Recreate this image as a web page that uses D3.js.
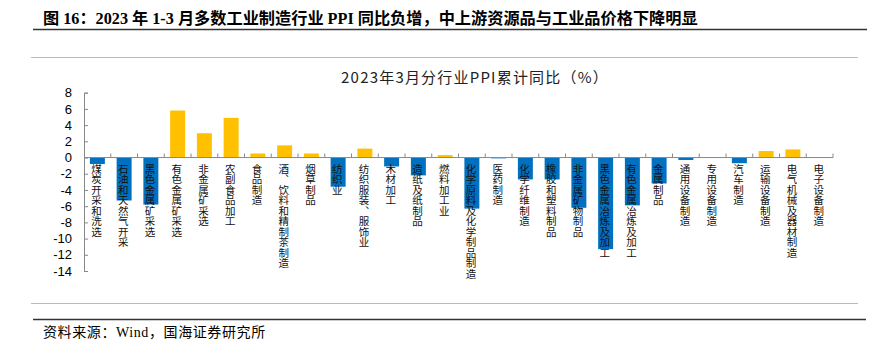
<!DOCTYPE html>
<html>
<head>
<meta charset="utf-8">
<script src="https://cdn.jsdelivr.net/npm/d3@7"></script>
<style>
  body { margin: 0; background: #fff; }
  svg { display: block; }
</style>
</head>
<body>
<div id="chart"></div>
<script>
// industry categories (left to right)
var categories = [
  "煤炭开采和洗选", "石油和天然气开采", "黑色金属矿采选", "有色金属矿采选", "非金属矿采选",
  "农副食品加工", "食品制造", "酒、饮料和精制茶制造", "烟草制品", "纺织业",
  "纺织服装、服饰业", "木材加工", "造纸及纸制品", "燃料加工业", "化学原料及化学制品制造",
  "医药制造", "化学纤维制造", "橡胶和塑料制品", "非金属矿物制品", "黑色金属冶炼及加工",
  "有色金属冶炼及加工", "金属制品", "通用设备制造", "专用设备制造", "汽车制造",
  "运输设备制造", "电气机械及器材制造", "电子设备制造"
];
// PPI cumulative yoy, %
var values = [
  -0.8, -5.3, -5.8, 5.8, 3.0,
  4.9, 0.5, 1.5, 0.5, -3.6,
  1.1, -1.1, -2.2, 0.3, -6.3,
  -0.1, -2.7, -2.7, -6.2, -11.3,
  -5.9, -3.2, -0.3, 0.0, -0.7,
  0.8, 1.0, 0.0
];
var yTicks = [8, 6, 4, 2, 0, -2, -4, -6, -8, -10, -12, -14];

var width = 889, height = 353;
var svg = d3.select('#chart').append('svg')
  .attr('width', width)
  .attr('height', height);

// report header
svg.append('text')
  .attr('x', 43).attr('y', 24)
  .style('font-family', '"Liberation Serif", "Noto Sans CJK SC", serif')
  .style('font-weight', 'bold')
  .style('font-size', '16.2px')
  .attr('fill', '#000')
  .text('图 16：2023 年 1-3 月多数工业制造行业 PPI 同比负增，中上游资源品与工业品价格下降明显');

svg.append('line').attr('x1', 33).attr('x2', 867).attr('y1', 29.5).attr('y2', 29.5)
  .attr('stroke', '#333').attr('stroke-width', 1.5);
svg.append('line').attr('x1', 31).attr('x2', 858).attr('y1', 57.5).attr('y2', 57.5)
  .attr('stroke', '#bbb').attr('stroke-width', 1);
svg.append('line').attr('x1', 31).attr('x2', 858).attr('y1', 303.5).attr('y2', 303.5)
  .attr('stroke', '#bbb').attr('stroke-width', 1);
svg.append('line').attr('x1', 33).attr('x2', 866).attr('y1', 319.5).attr('y2', 319.5)
  .attr('stroke', '#333').attr('stroke-width', 1.5);

svg.append('text')
  .attr('x', 43).attr('y', 337)
  .style('font-family', '"Liberation Serif", "Noto Sans CJK SC", serif')
  .style('font-size', '14px')
  .style('letter-spacing', '0.6px')
  .attr('fill', '#000')
  .text('资料来源：Wind，国海证券研究所');

// chart title
svg.append('text')
  .attr('x', 475).attr('y', 83)
  .attr('text-anchor', 'middle')
  .style('font-family', '"Noto Sans CJK SC", sans-serif')
  .style('font-size', '15px')
  .style('letter-spacing', '1.2px')
  .attr('fill', '#222')
  .text('2023年3月分行业PPI累计同比（%）');

// scales
var x = d3.scaleBand()
  .domain(categories)
  .range([84, 833])
  .paddingInner(0.44)
  .paddingOuter(0.22);

var y = d3.scaleLinear()
  .domain([-14, 8])
  .range([271, 92.7]);

// bars
svg.selectAll('rect.bar')
  .data(values)
  .enter()
  .append('rect')
  .attr('class', 'bar')
  .attr('x', function(d, i) { return x(categories[i]); })
  .attr('width', x.bandwidth())
  .attr('y', function(d) { return y(Math.max(0, d)); })
  .attr('height', function(d) { return Math.abs(y(d) - y(0)); })
  .attr('fill', function(d) { return d >= 0 ? '#FFC000' : '#0070C0'; });

// y axis
var yAxis = svg.append('g')
  .attr('transform', 'translate(84,0)')
  .call(d3.axisRight(y).tickValues(yTicks).tickSize(4).tickFormat(d3.format('d')));
yAxis.select('.domain').attr('stroke', '#888');
yAxis.selectAll('.tick line').attr('stroke', '#888');
yAxis.selectAll('.tick text')
  .attr('x', -12)
  .attr('text-anchor', 'end')
  .style('font-family', '"Liberation Sans", Arial, sans-serif')
  .style('font-size', '13px')
  .attr('fill', '#000')
  .text(function(d) { return d < 0 ? '-' + Math.abs(d) : d; });

// zero line with band ticks pointing up
var step = x.step();
var bounds = categories.map(function(c) { return x(c) - x.paddingInner() * step / 2 + step; });
svg.append('line')
  .attr('x1', 84).attr('x2', 833)
  .attr('y1', y(0)).attr('y2', y(0))
  .attr('stroke', '#888');
svg.selectAll('line.xtick')
  .data(bounds)
  .enter()
  .append('line')
  .attr('class', 'xtick')
  .attr('x1', function(d) { return d; })
  .attr('x2', function(d) { return d; })
  .attr('y1', y(0)).attr('y2', y(0) - 4)
  .attr('stroke', '#888');

// vertical category labels
svg.selectAll('text.cat')
  .data(categories)
  .enter()
  .append('text')
  .attr('class', 'cat')
  .attr('x', function(d) { return x(d) + x.bandwidth() / 2 - 1; })
  .attr('y', y(0) + 6)
  .style('writing-mode', 'vertical-rl')
  .style('font-family', '"Noto Sans CJK SC", sans-serif')
  .style('font-size', '10.5px')
  .attr('fill', '#111')
  .text(function(d) { return d; });
</script>
</body>
</html>
